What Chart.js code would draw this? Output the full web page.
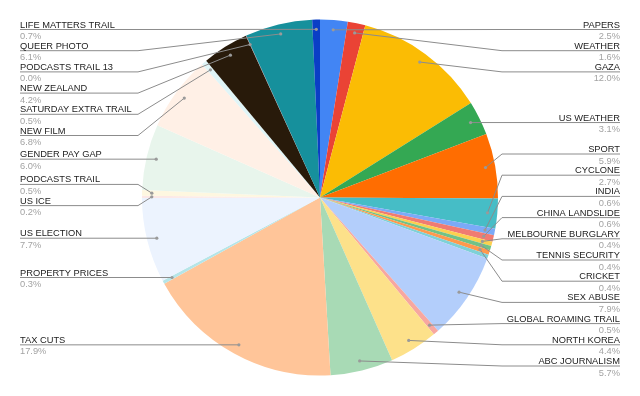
<!DOCTYPE html>
<html>
<head>
<meta charset="utf-8">
<script src="https://cdn.jsdelivr.net/npm/chart.js@4/dist/chart.umd.min.js"></script>
<style>
  html, body { margin: 0; padding: 0; background: #ffffff; }
  #wrap { width: 640px; height: 396px; }
</style>
</head>
<body>
<div id="wrap"><canvas id="c" width="640" height="396"></canvas></div>
<script>
// ---- data (clockwise from 12 o'clock) ----
const categories = [
  "PAPERS", "WEATHER", "GAZA", "US WEATHER", "SPORT", "CYCLONE", "INDIA",
  "CHINA LANDSLIDE", "MELBOURNE BURGLARY", "TENNIS SECURITY", "CRICKET", "",
  "SEX ABUSE", "GLOBAL ROAMING TRAIL", "NORTH KOREA", "ABC JOURNALISM",
  "TAX CUTS", "PROPERTY PRICES", "US ELECTION", "US ICE", "PODCASTS TRAIL",
  "GENDER PAY GAP", "NEW FILM", "SATURDAY EXTRA TRAIL", "NEW ZEALAND",
  "PODCASTS TRAIL 13", "QUEER PHOTO", "LIFE MATTERS TRAIL"
];
const shares = [
  2.5, 1.6, 12.0, 3.1, 5.9, 2.7, 0.6,
  0.6, 0.4, 0.4, 0.4, 0.36,
  7.9, 0.5, 4.4, 5.7,
  17.9, 0.3, 7.7, 0.2, 0.5,
  6.0, 6.8, 0.5, 4.2,
  0.04, 6.1, 0.7
];
const sliceColors = [
  "#4285f4", "#ea4335", "#fbbc04", "#34a853", "#ff6d01", "#46bdc6", "#7baaf7",
  "#f07b72", "#fcd04f", "#71c287", "#ff994d", "#7ed1d7",
  "#b3cefb", "#f7a7a0", "#fde18a", "#a8dab5",
  "#ffc599", "#b5e5e8", "#ecf3fe", "#fce8e6", "#fef7e0",
  "#e8f5ec", "#fff0e6", "#e0f5f7", "#281a0a",
  "#a0707e", "#16909c", "#0a3ec6"
];

// ---- label plugin: leader lines + names + percentages ----
const FONT = '9.3px "Liberation Sans", Arial, sans-serif';
const leaderLabels = {
  id: 'leaderLabels',
  afterDatasetsDraw(chart) {
    const ctx = chart.ctx;
    const meta = chart.getDatasetMeta(0);
    const values = chart.data.datasets[0].data;
    const total = values.reduce((a, b) => a + b, 0);
    const spacing = 21.2, minY = 29.5, maxY = 366;
    const left = [], right = [];
    meta.data.forEach((arc, i) => {
      const name = chart.data.labels[i];
      if (!name) return;
      const p = arc.getProps(['x', 'y', 'startAngle', 'endAngle', 'outerRadius'], true);
      const mid = (p.startAngle + p.endAngle) / 2;
      const d = p.outerRadius * 0.945;
      const ax = p.x + Math.cos(mid) * d;
      const ay = p.y + Math.sin(mid) * d;
      const item = { i, name, ax, ay, desired: ay, cx: p.x, r: p.outerRadius,
        pct: (values[i] / total * 100).toFixed(1) + '%' };
      (ax >= p.x ? right : left).push(item);
    });
    function layout(items) {
      items.sort((a, b) => a.desired - b.desired);
      let clusters = items.map(it => ({ items: [it], sum: it.desired }));
      const top = c => {
        const n = c.items.length;
        let t = c.sum / n - (n - 1) * spacing / 2;
        t = Math.min(t, maxY - (n - 1) * spacing);
        t = Math.max(t, minY);
        return t;
      };
      let merged = true;
      while (merged) {
        merged = false;
        for (let k = 1; k < clusters.length; k++) {
          const a = clusters[k - 1], b = clusters[k];
          const aBottom = top(a) + (a.items.length - 1) * spacing;
          if (aBottom + spacing > top(b) + 0.01) {
            clusters.splice(k - 1, 2, { items: a.items.concat(b.items), sum: a.sum + b.sum });
            merged = true;
            break;
          }
        }
      }
      clusters.forEach(c => {
        const t = top(c);
        c.items.forEach((it, k) => { it.ly = t + k * spacing; });
      });
    }
    layout(left); layout(right);
    ctx.save();
    ctx.font = FONT;
    const draw = (it, isRight) => {
      const edgeX = isRight ? 620 : 20;
      const bendX = isRight ? it.cx + it.r + 4 : it.cx - it.r - 4;
      ctx.strokeStyle = '#8c8c8c';
      ctx.lineWidth = 1;
      ctx.beginPath();
      ctx.moveTo(edgeX, it.ly);
      ctx.lineTo(bendX, it.ly);
      ctx.lineTo(it.ax, it.ay);
      ctx.stroke();
      ctx.fillStyle = '#9a9a9a';
      ctx.beginPath();
      ctx.arc(it.ax, it.ay, 1.6, 0, Math.PI * 2);
      ctx.fill();
      ctx.textAlign = isRight ? 'right' : 'left';
      ctx.textBaseline = 'alphabetic';
      ctx.fillStyle = '#222222';
      ctx.fillText(it.name, edgeX, it.ly - 2);
      ctx.fillStyle = '#a3a3a3';
      ctx.fillText(it.pct, edgeX, it.ly + 9.5);
    };
    left.forEach(it => draw(it, false));
    right.forEach(it => draw(it, true));
    ctx.restore();
  }
};

new Chart(document.getElementById('c'), {
  type: 'pie',
  data: {
    labels: categories,
    datasets: [{
      data: shares,
      backgroundColor: sliceColors,
      borderWidth: 0
    }]
  },
  options: {
    responsive: false,
    animation: false,
    layout: { padding: { top: 19.5, bottom: 20.5, left: 0, right: 0 } },
    plugins: {
      legend: { display: false },
      tooltip: { enabled: false }
    }
  },
  plugins: [leaderLabels]
});
</script>
</body>
</html>
